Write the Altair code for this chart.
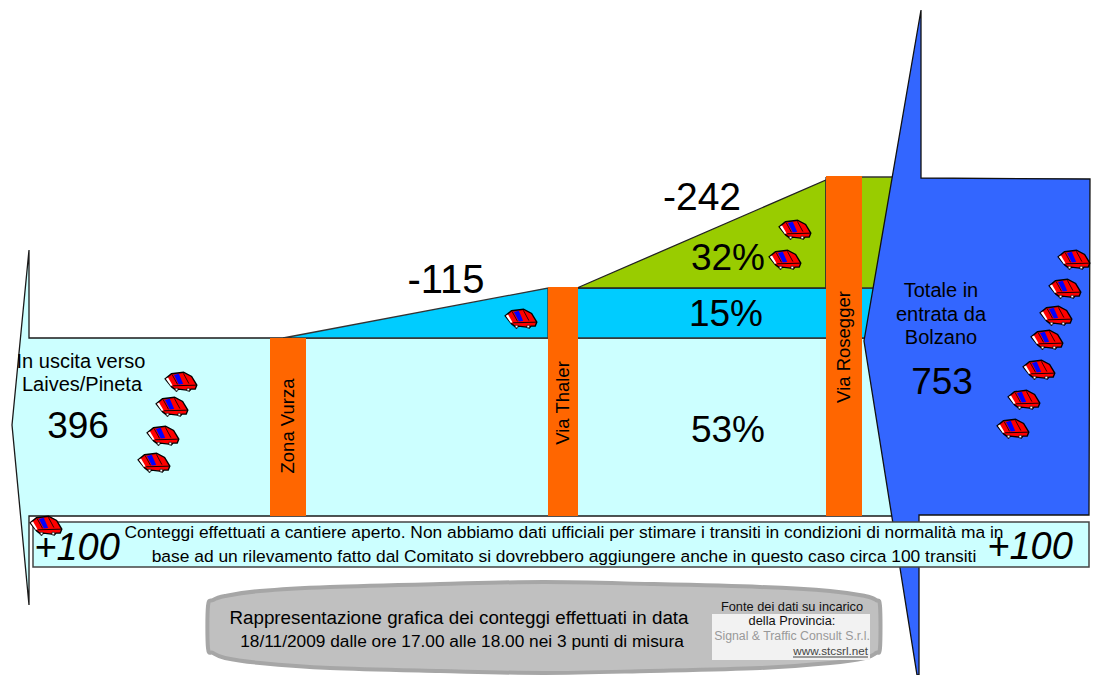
import altair as alt
import pandas as pd

W, H = 1087, 667
xs = alt.Scale(domain=[8, 8 + W], range=[0, W])
ys = alt.Scale(domain=[8, 8 + H], range=[0, H])

# shapes: vertices (image pixels)
light_arrow = [(12,425),(29,250),(29,338),(900,338),(900,516),(29,516),(29,605)]
wedge_thaler = [(283,338),(548,288),(548,338)]
band_cyan = [(577,288),(885,288),(885,338),(577,338)]
wedge_green = [(577,288),(826,180),(826,288)]
band_green = [(826,177),(895,177),(895,288),(826,288)]
bar_vurza = [(270,338),(306,338),(306,516),(270,516)]
bar_thaler = [(548,287),(578,287),(578,516),(548,516)]
bar_rosegger = [(826,176),(862,176),(862,516),(826,516)]
blue_arrow = [(921,10),(921,178),(1090,179),(1089,515),(919,515),(919,675),(917,675),(864,341)]
note_box = [(33,522),(1089,522),(1089,567),(33,567)]
oval = [(208,606),(213,600),(225,596),(260,591),(330,587),(440,584),(544,582),(650,584),(760,587),(830,591),(865,596),(876,600),(880,606),
        (880,648),(876,653),(865,658),(830,663),(760,668),(650,671),(544,673),(440,671),(330,668),(260,663),(225,658),(213,653),(208,648)]
logo_box = [(712,614),(870,614),(870,660),(712,660)]
underline = [(793,657),(868,657)]

polygons = [
    (light_arrow, "#CCFFFF", "#1a1a1a", 1.3, "linear"),
    (wedge_thaler, "#00CCFF", "#333333", 1.3, "linear"),
    (band_cyan, "#00CCFF", "#333333", 1.3, "linear"),
    (wedge_green, "#99CC00", "#222222", 1.3, "linear"),
    (band_green, "#99CC00", "#333333", 1.3, "linear"),
    (bar_vurza, "#FF6600", "#FF6600", 0, "linear"),
    (bar_thaler, "#FF6600", "#FF6600", 0, "linear"),
    (bar_rosegger, "#FF6600", "#FF6600", 0, "linear"),
    (blue_arrow, "#3366FF", "#111111", 1.3, "linear"),
    (note_box, "#CCFFFF", "#444444", 1.5, "linear"),
    (oval, "#C0C0C0", "#A6A6A6", 4, "cardinal-closed"),
    (logo_box, "#F2F2F2", "#F2F2F2", 0, "linear"),
]

def polygon(points, fill, stroke, width, interp):
    closed = list(points) + ([points[0]] if interp == "linear" else [])
    df = pd.DataFrame({"x": [p[0] for p in closed], "y": [p[1] for p in closed], "i": range(len(closed))})
    kw = dict(fill=fill, opacity=1, fillOpacity=1, strokeJoin="miter", strokeWidth=max(width, 0.01), stroke=stroke, interpolate=interp)
    return alt.Chart(df).mark_line(**kw).encode(
        x=alt.X("x:Q", scale=xs, axis=None),
        y=alt.Y("y:Q", scale=ys, axis=None),
        order="i:Q",
    )

layers = [polygon(*p) for p in polygons]

# cars
car_x = [181,172,163,154,521,795,785,1074,1065,1056,1047,1039,1024,1013,46]
car_y = [382,407,436,463,319,230,260,260,289,316,340,370,400,429,526]
cars = pd.DataFrame({"x": car_x, "y": car_y})
CAR_BODY = "M-1 -0.2L-0.6 -0.52L0.16 -0.62L0.67 -0.35L1 0.2L0.9 0.45L0.63 0.45L0.53 0.57L0.37 0.51L-0.18 0.45L-0.29 0.57L-0.41 0.45L-0.59 0.31Z"
CAR_STRIPES = "M-0.55 -0.45L-0.22 0.15M0.15 -0.55L0.5 0.1"
CAR_BLUE = "M-0.45 -0.45L-0.14 -0.52L0.14 0.12L-0.14 0.16Z"
CAR_BACK = "M-0.96 -0.2L-0.82 -0.28L-0.54 0.2L-0.64 0.26Z"
CAR_SIDE = "M-0.5 0.24L0.96 0.2"
WHEELS = "M-0.36 0.4L-0.2 0.4L-0.2 0.56L-0.36 0.56ZM0.38 0.4L0.54 0.4L0.54 0.56L0.38 0.56Z"
CAR_SIZE = 1000
def car_layer(shape, fill=None, stroke=None, sw=1):
    kw = dict(shape=shape, size=CAR_SIZE, opacity=1, strokeWidth=sw)
    kw["filled"] = fill is not None
    if fill is not None:
        kw["fill"] = fill
    if stroke is not None:
        kw["stroke"] = stroke
    return alt.Chart(cars).mark_point(**kw).encode(
        x=alt.X("x:Q", scale=xs, axis=None), y=alt.Y("y:Q", scale=ys, axis=None))

# texts
texts = [
    ("In uscita verso", 81, 362, 20, 0, "normal", "#000000", "center"),
    ("Laives/Pineta", 82, 385, 20, 0, "normal", "#000000", "center"),
    ("396", 78, 427, 37, 0, "normal", "#000000", "center"),
    ("Zona Vurza", 288, 426, 18.5, 270, "normal", "#000000", "center"),
    ("Via Thaler", 563, 403, 18.5, 270, "normal", "#000000", "center"),
    ("Via Rosegger", 844, 347, 18.5, 270, "normal", "#000000", "center"),
    ("-115", 446, 281, 40, 0, "normal", "#000000", "center"),
    ("-242", 702, 198, 39, 0, "normal", "#000000", "center"),
    ("32%", 728, 259, 37, 0, "normal", "#000000", "center"),
    ("15%", 726, 315, 37, 0, "normal", "#000000", "center"),
    ("53%", 728, 431, 37, 0, "normal", "#000000", "center"),
    ("Totale in", 941, 291, 20, 0, "normal", "#000000", "center"),
    ("entrata da", 941, 315, 20, 0, "normal", "#000000", "center"),
    ("Bolzano", 941, 338, 20, 0, "normal", "#000000", "center"),
    ("753", 942, 383, 37, 0, "normal", "#000000", "center"),
    ("+100", 77, 549, 38, 0, "italic", "#000000", "center"),
    ("+100", 1030, 548, 38, 0, "italic", "#000000", "center"),
    ("Conteggi effettuati a cantiere aperto. Non abbiamo dati ufficiali per stimare i transiti in condizioni di normalità ma in", 564, 533, 17.4, 0, "normal", "#000000", "center"),
    ("base ad un rilevamento fatto dal Comitato si dovrebbero aggiungere anche in questo caso circa 100 transiti", 564, 557, 17.4, 0, "normal", "#000000", "center"),
    ("Rappresentazione grafica dei conteggi effettuati in data", 459, 618, 18.8, 0, "normal", "#000000", "center"),
    ("18/11/2009 dalle ore 17.00 alle 18.00 nei 3 punti di misura", 462, 642, 17.3, 0, "normal", "#000000", "center"),
    ("Fonte dei dati su incarico", 792, 607, 12.8, 0, "normal", "#111111", "center"),
    ("della Provincia:", 792, 621, 12.8, 0, "normal", "#111111", "center"),
    ("Signal & Traffic Consult S.r.l.", 792, 636, 12.3, 0, "normal", "#999999", "center"),
    ("www.stcsrl.net", 868, 651, 11.7, 0, "normal", "#444444", "right"),
]

def text_layer(t):
    s, x, y, size, angle, style, color, align = t
    return alt.Chart(pd.DataFrame({"x": [x], "y": [y], "t": [s]})).mark_text(
        font="Liberation Sans", fontSize=size, angle=angle, fontStyle=style, color=color,
        align=align, baseline="middle",
    ).encode(x=alt.X("x:Q", scale=xs, axis=None), y=alt.Y("y:Q", scale=ys, axis=None), text="t:N")

ul = alt.Chart(pd.DataFrame({"x": [p[0] for p in underline], "y": [p[1] for p in underline]})).mark_line(
    color="#444444", strokeWidth=1).encode(x=alt.X("x:Q", scale=xs, axis=None), y=alt.Y("y:Q", scale=ys, axis=None))

car_layers = [
    car_layer(CAR_BODY, fill="#FF0000", stroke="#000000", sw=1.4),
    car_layer(CAR_BLUE, fill="#0000FF"),
    car_layer(CAR_BACK, fill="#FFFFFF"),
    car_layer(CAR_STRIPES, stroke="#000000", sw=0.8),
    car_layer(CAR_SIDE, stroke="#000000", sw=0.9),
    car_layer(WHEELS, fill="#FFFFFF", stroke="#000000", sw=0.6),
]

chart = alt.layer(*layers, *car_layers, *[text_layer(t) for t in texts], ul).properties(
    width=W, height=H, padding=0, background="#FFFFFF",
    autosize=alt.AutoSizeParams(type="none"),
).configure_view(stroke=None)

chart.save("out.html", embed_options={"renderer": "svg", "actions": False})
